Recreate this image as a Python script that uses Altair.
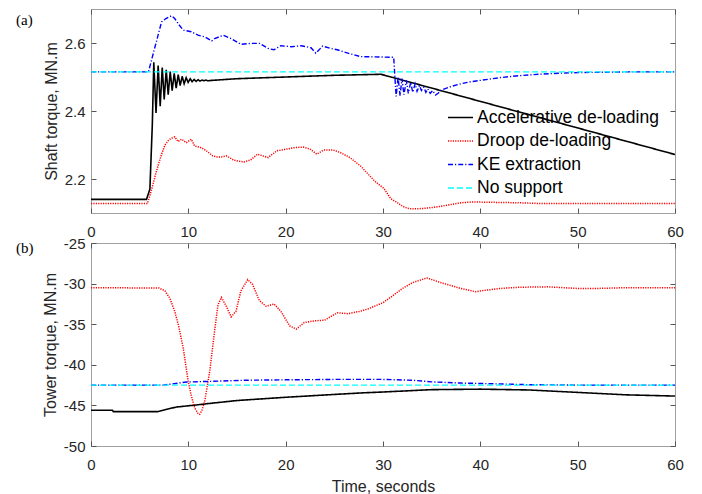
import altair as alt
import pandas as pd

series_names = ["Accelerative de-loading", "Droop de-loading", "KE extraction", "No support"]
series_colors = ["#000000", "#ff0000", "#0000ff", "#00ffff"]
series_dashes = [[1, 0], [1.2, 1.2], [5, 2, 1.2, 2], [6, 3]]
series_widths = [1.6, 1.3, 1.3, 1.6]
panel_labels = ["(a)", "(b)"]
x_ticks = [0, 10, 20, 30, 40, 50, 60]
shaft_ticks = [2.2, 2.4, 2.6]
tower_ticks = [-50, -45, -40, -35, -30, -25]

# ---- panel (a): shaft torque, MN.m ----
shaft_accel = [(0, 2.14), (5.7, 2.14), (6.05, 2.17), (6.3, 2.36), (6.45, 2.543), (6.68, 2.394),
               (6.9, 2.534), (7.11, 2.414), (7.32, 2.528), (7.52, 2.434), (7.73, 2.521), (7.93, 2.448),
               (8.14, 2.516), (8.34, 2.46), (8.55, 2.511), (8.75, 2.467), (8.96, 2.507), (9.16, 2.475),
               (9.37, 2.502), (9.57, 2.48), (9.78, 2.498), (9.98, 2.484), (10.19, 2.495), (10.39, 2.486),
               (10.6, 2.493), (10.8, 2.487), (11.0, 2.492), (11.2, 2.488), (11.4, 2.491), (11.6, 2.489),
               (11.8, 2.491), (12.0, 2.489), (12.4, 2.49), (15, 2.495), (20, 2.50), (25, 2.505),
               (29.8, 2.508), (60, 2.272)]
shaft_droop = [(0, 2.128), (5.8, 2.128), (6.2, 2.166), (6.73, 2.224), (7.25, 2.273), (7.6, 2.30),
               (8.0, 2.315), (8.27, 2.32), (8.6, 2.324), (8.95, 2.31), (9.3, 2.317), (9.8, 2.307),
               (10.3, 2.317), (10.65, 2.297), (11.34, 2.292), (11.85, 2.283), (12.5, 2.268), (13.0, 2.265),
               (13.4, 2.265), (13.9, 2.268), (14.7, 2.255), (15.7, 2.25), (16.4, 2.256), (17.1, 2.273),
               (18.2, 2.263), (19.1, 2.283), (20.1, 2.288), (20.8, 2.292), (21.8, 2.294), (22.5, 2.288),
               (23.2, 2.273), (23.9, 2.285), (24.9, 2.285), (25.6, 2.278), (26.6, 2.263), (27.7, 2.238),
               (29.1, 2.195), (30.1, 2.172), (30.8, 2.142), (31.5, 2.13), (32, 2.12), (32.5, 2.114),
               (33, 2.112), (34, 2.113), (35, 2.116), (36, 2.12), (37, 2.125), (38, 2.13), (39, 2.132),
               (40, 2.132), (42, 2.131), (44, 2.13), (46, 2.128), (50, 2.128), (55, 2.128), (60, 2.128)]
shaft_ke = [(0, 2.515), (5.9, 2.515), (7.25, 2.662), (7.7, 2.672), (8.27, 2.68), (8.6, 2.672),
            (9.0, 2.655), (9.47, 2.638), (10.3, 2.633), (11.0, 2.623), (11.7, 2.618), (12.4, 2.606),
            (12.7, 2.613), (13.6, 2.623), (14.4, 2.613), (15.4, 2.596), (16.5, 2.599), (17.3, 2.599),
            (18.2, 2.584), (18.8, 2.58), (19.5, 2.592), (20.6, 2.589), (21.6, 2.592), (22.6, 2.586),
            (23.1, 2.57), (23.8, 2.591), (24.6, 2.584), (25.3, 2.58), (26.4, 2.57), (27.7, 2.56),
            (31.1, 2.558), (31.2, 2.51), (31.35, 2.443), (31.55, 2.50), (31.75, 2.445), (31.95, 2.495),
            (32.15, 2.448), (32.4, 2.49), (32.6, 2.452), (32.85, 2.485), (33.05, 2.455), (33.3, 2.48),
            (33.5, 2.458), (33.75, 2.475), (33.95, 2.46), (34.2, 2.47), (34.4, 2.455), (34.6, 2.465),
            (34.85, 2.452), (35.1, 2.46), (35.4, 2.447), (35.7, 2.453), (36, 2.462), (37, 2.472),
            (38, 2.48), (39, 2.486), (40, 2.49), (42, 2.498), (44, 2.504), (46, 2.508), (48, 2.511),
            (50, 2.513), (55, 2.515), (60, 2.515)]
shaft_none = [(0, 2.515), (60, 2.515)]

# ---- panel (b): tower torque, MN.m ----
tower_accel = [(0, -45.6), (2.2, -45.6), (2.3, -45.77), (6.84, -45.77), (7.76, -45.48), (8.78, -45.2),
               (10.8, -44.95), (11.85, -44.8), (15, -44.4), (20, -44.0), (25, -43.65), (28, -43.45),
               (30, -43.35), (35, -43.06), (40, -43.0), (45, -43.1), (50, -43.4), (55, -43.7), (60, -43.85)]
tower_droop = [(0, -30.5), (7.0, -30.55), (7.6, -30.9), (8.1, -31.8), (8.6, -33.4), (9.0, -35.2),
               (9.47, -37.9), (9.98, -42.0), (10.3, -43.8), (10.65, -45.3), (11.0, -46.0), (11.17, -46.1),
               (11.4, -45.6), (11.68, -44.5), (12.2, -40.8), (12.7, -35.8), (13.05, -32.6), (13.4, -31.7),
               (13.9, -32.8), (14.4, -34.1), (14.9, -33.4), (15.4, -30.9), (16.1, -29.5), (16.6, -30.1),
               (17.3, -32.1), (18.0, -32.8), (18.8, -32.5), (19.5, -33.4), (20.4, -35.2), (21.1, -35.6),
               (21.9, -34.8), (22.9, -34.6), (24.0, -34.5), (25.3, -33.6), (26.4, -33.7), (27.7, -33.4),
               (28.5, -33.1), (30, -32.35), (31, -31.5), (32, -30.6), (33, -29.9), (34.5, -29.3),
               (36, -29.9), (38, -30.6), (39.5, -31.0), (40, -30.9), (42, -30.6), (44, -30.45),
               (47, -30.4), (50, -30.6), (52, -30.6), (55, -30.5), (60, -30.5)]
tower_ke = [(0, -42.5), (7.4, -42.5), (9.8, -42.12), (12, -42.05), (16, -41.9), (20, -41.85),
            (25, -41.8), (30, -41.8), (33, -41.9), (35, -42.1), (38, -42.25), (40, -42.3),
            (45, -42.45), (50, -42.5), (60, -42.5)]
tower_none = [(0, -42.5), (60, -42.5)]


def to_df(*series):
    rows = []
    for name, pts in zip(series_names, series):
        for t, v in pts:
            rows.append({"t": t, "v": v, "series": name})
    return pd.DataFrame(rows)


shaft_df = to_df(shaft_accel, shaft_droop, shaft_ke, shaft_none)
tower_df = to_df(tower_accel, tower_droop, tower_ke, tower_none)

FONT = "Liberation Sans"
PLOT_W = 584

legend_cfg = alt.Legend(
    orient="none", legendX=356, legendY=95, title=None,
    labelFont=FONT, labelFontSize=17.5, labelColor="#000000", labelLimit=400,
    symbolType="stroke", symbolSize=625, symbolStrokeWidth=1.5,
    labelOffset=3, rowPadding=1.5, padding=0,
)

minus_expr = "datum.value < 0 ? '-' + format(-datum.value, '') : format(datum.value, '')"


def panel(df, ydomain, yticks, ytitle, label, tag_y, show_legend, show_xtitle, height):
    xs = alt.Scale(domain=[0, 60], nice=False, zero=False)
    ys = alt.Scale(domain=ydomain, nice=False, zero=False)
    leg = legend_cfg if show_legend else None
    lines = alt.Chart(df).mark_line(clip=True).encode(
        x=alt.X("t:Q", scale=xs, axis=alt.Axis(
            values=x_ticks, title="Time, seconds" if show_xtitle else None,
            offset=-5, tickSize=5, domain=False, grid=False, labelFlush=False,
            labelPadding=11, titlePadding=6)),
        y=alt.Y("v:Q", scale=ys, axis=alt.Axis(
            values=yticks, title=ytitle, offset=-5, tickSize=5, domain=False,
            grid=False, labelPadding=6, titlePadding=5, labelExpr=minus_expr)),
        color=alt.Color("series:N", scale=alt.Scale(domain=series_names, range=series_colors), legend=leg),
        strokeDash=alt.StrokeDash("series:N", scale=alt.Scale(domain=series_names, range=series_dashes), legend=leg),
        strokeWidth=alt.StrokeWidth("series:N", scale=alt.Scale(domain=series_names, range=series_widths), legend=None),
    )
    frame = alt.Chart(df).mark_line(opacity=0).encode(
        x=alt.X("t:Q", scale=xs, axis=alt.Axis(
            orient="top", values=x_ticks, labels=False, title=None,
            offset=-5, tickSize=5, domain=False, grid=False)),
        y=alt.Y("v:Q", scale=ys, axis=alt.Axis(
            orient="right", values=yticks, labels=False, title=None,
            offset=-5, tickSize=5, domain=False, grid=False)),
    )
    tag = alt.Chart(pd.DataFrame({"label": [label]})).mark_text(
        font="Liberation Serif", fontSize=15, align="left", baseline="middle", color="#000000"
    ).encode(x=alt.value(-75), y=alt.value(tag_y), text="label:N")
    return alt.layer(lines, frame, tag).resolve_axis(
        x="independent", y="independent").properties(width=PLOT_W, height=height)


top = panel(shaft_df, [2.1, 2.7], shaft_ticks, "Shaft torque, MN.m", panel_labels[0], 11, True, False, 204)
bottom = panel(tower_df, [-50, -25], tower_ticks, "Tower torque, MN.m", panel_labels[1], 5, False, True, 203)

chart = alt.vconcat(top, bottom, spacing=30, bounds="flush").resolve_scale(
    color="independent", strokeDash="independent", strokeWidth="independent"
).resolve_legend(
    color="independent", strokeDash="independent"
).properties(
    padding={"left": 7, "top": 0, "right": 5, "bottom": 0}
).configure_view(
    stroke="#a0a0a0", strokeWidth=1
).configure_axis(
    labelFont=FONT, titleFont=FONT, labelFontSize=15, titleFontSize=16,
    titleFontWeight="normal", labelColor="#262626", titleColor="#262626",
    tickColor="#555555", tickWidth=1
)

chart.save("out.html", embed_options={"renderer": "svg", "actions": False})
